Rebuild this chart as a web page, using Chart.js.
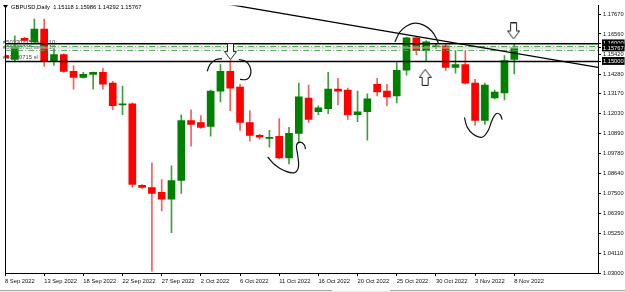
<!DOCTYPE html>
<html>
<head>
<meta charset="utf-8">
<script src="https://cdn.jsdelivr.net/npm/chart.js@4.4.0/dist/chart.umd.min.js"></script>
<style>
  body { margin: 0; background: #fff; }
</style>
</head>
<body>
<canvas id="chart" width="625" height="292"></canvas>
<script>
// daily bars (the broker has Sunday bars too)
var dates = ['8 Sep 2022', '9 Sep 2022', '11 Sep 2022', '12 Sep 2022', '13 Sep 2022', '14 Sep 2022', '15 Sep 2022', '16 Sep 2022',
    '18 Sep 2022', '19 Sep 2022', '20 Sep 2022', '21 Sep 2022', '22 Sep 2022', '23 Sep 2022',
    '25 Sep 2022', '26 Sep 2022', '27 Sep 2022', '28 Sep 2022', '29 Sep 2022', '30 Sep 2022',
    '2 Oct 2022', '3 Oct 2022', '4 Oct 2022', '5 Oct 2022', '6 Oct 2022', '7 Oct 2022',
    '9 Oct 2022', '10 Oct 2022', '11 Oct 2022', '12 Oct 2022', '13 Oct 2022', '14 Oct 2022',
    '16 Oct 2022', '17 Oct 2022', '18 Oct 2022', '19 Oct 2022', '20 Oct 2022', '21 Oct 2022',
    '23 Oct 2022', '24 Oct 2022', '25 Oct 2022', '26 Oct 2022', '27 Oct 2022', '28 Oct 2022',
    '30 Oct 2022', '31 Oct 2022', '1 Nov 2022', '2 Nov 2022', '3 Nov 2022', '4 Nov 2022',
    '6 Nov 2022', '7 Nov 2022', '8 Nov 2022']
var open = [1.1533, 1.1511, 1.1631, 1.1611, 1.1684, 1.1505, 1.1539, 1.1444, 1.1410, 1.1427, 1.1438, 1.1377, 1.1254, 1.1260,
    1.0797, 1.0785, 1.0758, 1.0719, 1.0825, 1.1165, 1.1154, 1.1131, 1.1332, 1.1444, 1.1355, 1.1154,
    1.1081, 1.1064, 1.1076, 1.0953, 1.1092, 1.1293, 1.1215, 1.1232, 1.1343, 1.1338, 1.1198, 1.1215,
    1.1371, 1.1332, 1.1304, 1.1450, 1.1634, 1.1561, 1.1583, 1.1589, 1.1466, 1.1483, 1.1377, 1.1165,
    1.1293, 1.1321, 1.15118]
var high = [1.1544, 1.1645, 1.1639, 1.1740, 1.1740, 1.1572, 1.1544, 1.1477, 1.1438, 1.1440, 1.1461, 1.1388, 1.1360, 1.1265,
    1.0802, 1.0925, 1.0830, 1.0908, 1.1198, 1.1226, 1.1193, 1.1338, 1.1483, 1.1505, 1.1371, 1.1221,
    1.1087, 1.1109, 1.1176, 1.1126, 1.1377, 1.1366, 1.1249, 1.1438, 1.1405, 1.1349, 1.1332, 1.1316,
    1.1405, 1.1371, 1.1494, 1.1639, 1.1639, 1.1617, 1.1600, 1.1600, 1.1561, 1.1561, 1.1399, 1.1377,
    1.1338, 1.1533, 1.15986]
var low = [1.1449, 1.1505, 1.1611, 1.1600, 1.1472, 1.1477, 1.1438, 1.1343, 1.1405, 1.1343, 1.1343, 1.1226, 1.1198, 1.0785,
    1.0780, 1.0311, 1.0652, 1.0529, 1.0752, 1.1020, 1.1120, 1.1076, 1.1271, 1.1221, 1.1109, 1.1048,
    1.1059, 1.1014, 1.0947, 1.0919, 1.1042, 1.1154, 1.1198, 1.1204, 1.1254, 1.1171, 1.1159, 1.1053,
    1.1304, 1.1249, 1.1265, 1.1422, 1.1539, 1.1505, 1.1572, 1.1449, 1.1433, 1.1371, 1.1137, 1.1143,
    1.1288, 1.1282, 1.14292]
var close = [1.1522, 1.1583, 1.1620, 1.1684, 1.1505, 1.1539, 1.1444, 1.1410, 1.1427, 1.1438, 1.1371, 1.1249, 1.1260, 1.0802,
    1.0785, 1.0752, 1.0719, 1.0825, 1.1165, 1.1143, 1.1126, 1.1332, 1.1444, 1.1349, 1.1154, 1.1081,
    1.1070, 1.1070, 1.0953, 1.1092, 1.1299, 1.1171, 1.1237, 1.1343, 1.1332, 1.1198, 1.1215, 1.1288,
    1.1327, 1.1299, 1.1450, 1.1634, 1.1561, 1.1611, 1.1589, 1.1466, 1.1483, 1.1377, 1.1165, 1.1366,
    1.1327, 1.1505, 1.15767]

// axis ticks
var dateTicks = [0, 4, 8, 12, 16, 20, 24, 28, 32, 36, 40, 44, 48, 52]
var priceTicks = [1.17670, 1.16560, 1.15420, 1.14280, 1.13170, 1.12030, 1.10890, 1.09780, 1.08640, 1.07500, 1.06390, 1.05250, 1.04110, 1.03000]
var boxedPrices = [1.16000, 1.15767, 1.15000]

// levels on the chart
var levelLines = [1.16000, 1.15000]
var orderLines = [1.1585, 1.1563]
var bidPrice = 1.15767
var trendX = [20, 60.55]
var trendY = [1.1851, 1.1466]

// hand drawn marks (bar index, price)
var arrowDownX = [23.02, 51.93]
var arrowDownY = [1.1556, 1.1673]
var arrowUpX = [42.9]
var arrowUpY = [1.1410]
var scribbles = [
    { x: [20.64, 20.94, 21.55, 22.16], y: [1.1444, 1.1483, 1.1511, 1.1516] },
    { x: [23.88, 24.59, 25.0, 25.1, 24.7, 23.99], y: [1.1511, 1.1500, 1.1472, 1.1433, 1.1399, 1.1399] },
    { x: [26.82, 27.54, 28.55, 29.56, 29.97, 29.87, 29.77, 30.17, 30.58, 30.68], y: [1.0958, 1.0914, 1.0880, 1.0869, 1.0903, 1.0975, 1.1025, 1.1042, 1.1025, 1.1003] },
    { x: [39.81, 40.31, 41.02, 41.84, 42.75, 43.56, 44.07, 44.27], y: [1.1611, 1.1667, 1.1701, 1.1717, 1.1706, 1.1673, 1.1628, 1.1600] },
    { x: [46.91, 47.21, 47.82, 48.73, 49.34, 49.75, 50.15, 50.56, 50.76], y: [1.1182, 1.1126, 1.1087, 1.1070, 1.1109, 1.1170, 1.1204, 1.1198, 1.1170] }
]

var FONT = 'Liberation Sans'
var X_MAX = 60.55

//hollow arrow used as point image
function makeArrow(up) {
    var c = document.createElement('canvas')
    c.width = 13
    c.height = 17
    var g = c.getContext('2d')
    if (up) { g.translate(0, 17); g.scale(1, -1) }
    g.beginPath()
    g.moveTo(3.5, 0.5); g.lineTo(9.5, 0.5); g.lineTo(9.5, 8.5); g.lineTo(12.5, 8.5)
    g.lineTo(6.5, 16.5); g.lineTo(0.5, 8.5); g.lineTo(3.5, 8.5); g.closePath()
    g.fillStyle = '#fff'
    g.fill()
    g.strokeStyle = '#222'
    g.lineWidth = 1
    g.stroke()
    return c
}

function pts(xs, ys) {
    return xs.map(function (x, i) { return { x: x, y: ys[i] } })
}
function flat(level) {
    return [{ x: -1, y: level }, { x: X_MAX + 1, y: level }]
}

var bodyColors = open.map(function (o, i) { return close[i] >= o ? '#008000' : '#ff0000' })
var wickColors = open.map(function (o, i) { return close[i] >= o ? '#3f9f3f' : '#ff5a5a' })

var datasets = [
    { type: 'bar', data: dates.map(function (d, i) { return { x: i, y: [low[i], high[i]] } }),
      backgroundColor: wickColors, barThickness: 1, grouped: false, order: 5, minBarLength: 1 },
    { type: 'bar', data: dates.map(function (d, i) { return { x: i, y: [open[i], close[i]] } }),
      backgroundColor: bodyColors, barThickness: 7, grouped: false, order: 4, minBarLength: 1 },
    { type: 'line', data: flat(bidPrice), borderColor: '#c8c8c8', borderWidth: 1, pointRadius: 0, order: 3 }
]
orderLines.forEach(function (lv) {
    datasets.push({ type: 'line', data: flat(lv), borderColor: '#4aa84a', borderWidth: 1, borderDash: [6, 2, 1, 2], pointRadius: 0, order: 3 })
})
levelLines.forEach(function (lv) {
    datasets.push({ type: 'line', data: flat(lv), borderColor: '#000', borderWidth: 1.5, pointRadius: 0, order: 2 })
})
datasets.push({ type: 'line', data: pts(trendX, trendY), borderColor: '#000', borderWidth: 1.3, pointRadius: 0, order: 2 })
scribbles.forEach(function (s) {
    datasets.push({ type: 'line', data: pts(s.x, s.y), borderColor: '#111', borderWidth: 1.2, pointRadius: 0, tension: 0.4, order: 1 })
})
datasets.push({ type: 'scatter', data: pts(arrowDownX, arrowDownY), pointStyle: makeArrow(false), order: 0 })
datasets.push({ type: 'scatter', data: pts(arrowUpX, arrowUpY), pointStyle: makeArrow(true), order: 0 })

var decor = {
    id: 'decor',
    beforeDatasetsDraw: function (chart) {
        // order labels sit under the candles
        var ctx = chart.ctx
        var y = chart.scales.y
        ctx.save()
        ctx.font = '5.8px ' + FONT
        ctx.fillStyle = '#444'
        ctx.textBaseline = 'bottom'
        ctx.fillText('#50330715 sell 0.10', 3, y.getPixelForValue(orderLines[0]) - 1)
        ctx.fillText('#50330715 sell 0.10', 3, y.getPixelForValue(orderLines[1]) - 0)
        ctx.fillText('#50330715 sl', 3, y.getPixelForValue(levelLines[1]) - 1)
        ctx.restore()
    },
    afterDraw: function (chart) {
        var ctx = chart.ctx
        var a = chart.chartArea
        ctx.save()
        ctx.strokeStyle = '#000'
        ctx.lineWidth = 1
        ctx.beginPath()
        ctx.moveTo(a.left + 0.5, a.top)
        ctx.lineTo(a.left + 0.5, a.bottom)
        ctx.stroke()
        // title
        ctx.fillStyle = '#000'
        ctx.beginPath()
        ctx.moveTo(3, 5); ctx.lineTo(8, 5); ctx.lineTo(5.5, 8.5); ctx.closePath()
        ctx.fill()
        ctx.font = '5.8px ' + FONT
        ctx.textBaseline = 'middle'
        ctx.fillText('GBPUSD,Daily  ' + open[52].toFixed(5) + ' ' + high[52].toFixed(5) + ' ' + low[52].toFixed(5) + ' ' + close[52].toFixed(5), 11, 7)
        // tab strip
        ctx.fillStyle = '#a9a9a9'
        ctx.fillRect(0, 290, 332, 1)
        ctx.fillRect(390, 290, 235, 1)
        ctx.fillStyle = '#ececec'
        ctx.fillRect(0, 291, 625, 1)
        ctx.restore()
    }
}

var ctx = document.getElementById('chart').getContext('2d')
var myChart = new Chart(ctx, {
    data: { datasets: datasets },
    plugins: [decor],
    options: {
        responsive: false,
        animation: false,
        devicePixelRatio: 1,
        layout: { padding: { left: 1, top: 1, right: 0, bottom: 0 } },
        plugins: { legend: { display: false }, tooltip: { enabled: false } },
        scales: {
            x: {
                type: 'linear',
                offset: false,
                min: 0,
                max: X_MAX,
                afterBuildTicks: function (scale) { scale.ticks = dateTicks.map(function (v) { return { value: v } }) },
                afterFit: function (scale) { scale.height = 19 },
                ticks: {
                    autoSkip: false, maxRotation: 0, align: 'start', padding: 2, color: '#111',
                    font: { family: FONT, size: 5.8 },
                    callback: function (v) { return dates[v] }
                },
                grid: { offset: false, drawOnChartArea: false, tickLength: 3, color: '#000' },
                border: { display: true, color: '#000' }
            },
            y: {
                position: 'right',
                min: 1.0300,
                max: 1.1818,
                afterBuildTicks: function (scale) {
                    scale.ticks = priceTicks.concat(boxedPrices).map(function (v) { return { value: v } })
                },
                afterFit: function (scale) { scale.width = 27 },
                ticks: {
                    autoSkip: false, padding: 2,
                    font: { family: FONT, size: 5.7 },
                    color: function (c) { return boxedPrices.indexOf(c.tick.value) >= 0 ? '#fff' : '#111' },
                    showLabelBackdrop: function (c) { return boxedPrices.indexOf(c.tick.value) >= 0 },
                    backdropColor: '#000',
                    backdropPadding: { top: 1, bottom: 0, left: 1, right: 1 },
                    callback: function (v) { return v.toFixed(5) }
                },
                grid: { drawOnChartArea: false, tickLength: 3, color: '#000' },
                border: { display: true, color: '#000' }
            }
        }
    }
})
</script>
</body>
</html>
